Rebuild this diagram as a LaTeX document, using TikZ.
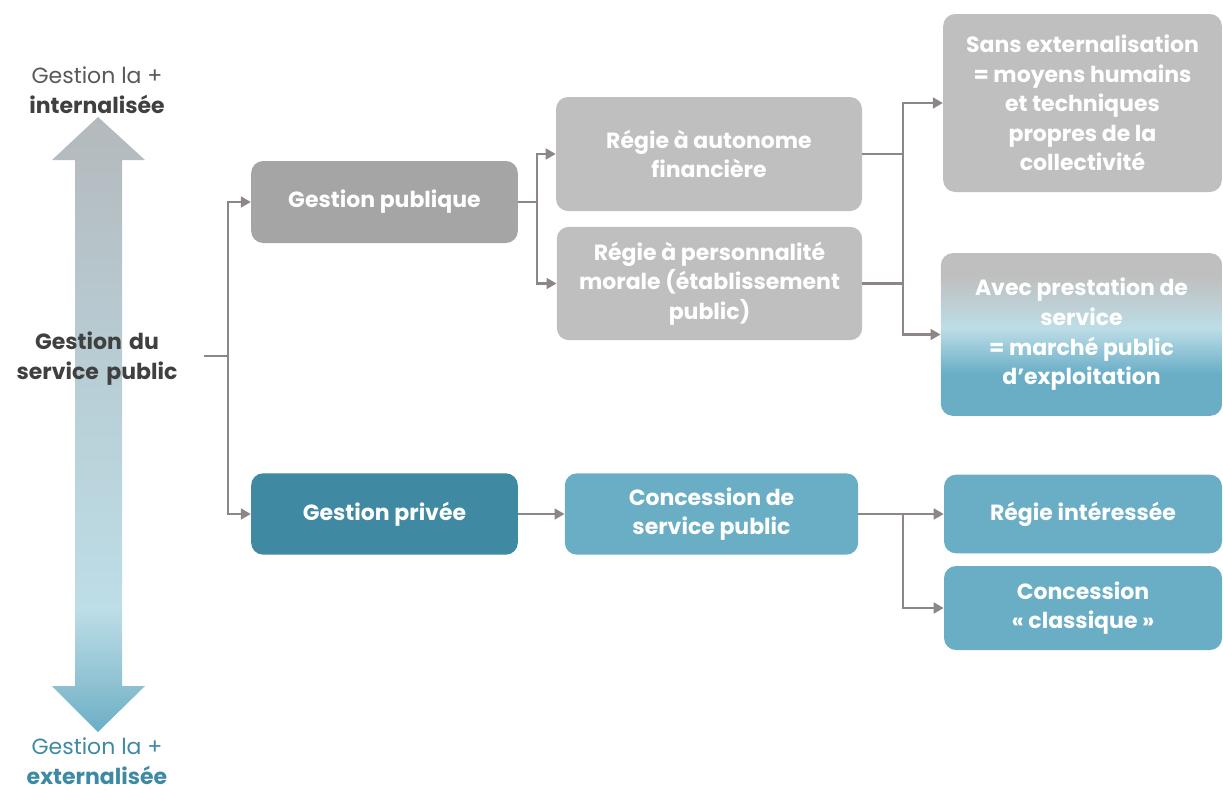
\documentclass[tikz,border=0pt]{standalone}
\usepackage{fontspec}
\setmainfont{Poppins}
\usetikzlibrary{arrows.meta,positioning}
\definecolor{pubgray}{RGB}{165,165,165}
\definecolor{regray}{RGB}{191,191,191}
\definecolor{privteal}{RGB}{63,137,162}
\definecolor{lightteal}{RGB}{106,174,198}
\definecolor{midteal}{RGB}{143,194,210}
\definecolor{paleblue}{RGB}{189,221,231}
\definecolor{bluegray}{RGB}{184,205,212}
\definecolor{arrowgray}{RGB}{180,185,188}
\definecolor{linkgray}{RGB}{140,134,132}
\definecolor{txtdark}{RGB}{64,64,64}
\definecolor{txtgray}{RGB}{89,89,89}
\definecolor{txtteal}{RGB}{62,138,164}
\pgfdeclareverticalshading{avecshade}{100bp}{color(0bp)=(lightteal); color(38bp)=(lightteal); color(52bp)=(paleblue); color(68bp)=(regray); color(100bp)=(regray)}
\pgfdeclareverticalshading{scaleshade}{100bp}{color(0bp)=(lightteal); color(25bp)=(lightteal); color(29bp)=(midteal); color(35bp)=(paleblue); color(55bp)=(bluegray); color(75bp)=(arrowgray); color(100bp)=(arrowgray)}
\tikzset{
  box/.style={rounded corners=9pt, text=white, align=center, inner sep=0pt,
    font=\bfseries\fontsize{16.5}{22.2}\selectfont},
  label/.style={align=center, inner sep=0pt, font=\fontsize{16.5}{22.5}\selectfont},
  link/.style={draw=linkgray, line width=2pt},
  linkarr/.style={link, -{Triangle[length=7.5pt,width=8pt]}},
}
\begin{document}
\begin{tikzpicture}[x=0.75pt,y=-0.75pt]
\useasboundingbox (0,0) rectangle (1223,790);
% echelle a gauche
\shade[shading=scaleshade] (98,117) -- (145,160) -- (122,160) -- (122,686) -- (145,686) -- (98,732)
  -- (52,686) -- (75,686) -- (75,160) -- (52,160) -- cycle;
\node [label] (topl) at (97,90) {\color{txtgray}Gestion la +\\\color{txtdark}\bfseries internalisée};
\node [label, text=txtdark, font=\bfseries\fontsize{16.5}{22.5}\selectfont, text width=160.5pt] (gdsp) at (97,359) {Gestion du\\service public};
\node [label] (botl) at (97,761) {\color{txtteal}Gestion la +\\\color{txtteal}\bfseries externalisée};
% boites
\node [box, fill=pubgray, minimum width=200pt, minimum height=61.5pt] (gpub) at (384.5,202) {Gestion publique};
\node [box, fill=regray, minimum width=229.5pt, minimum height=85.5pt] (regA) at (709,154) {Régie à autonome\\financière};
\node [box, fill=regray, minimum width=229pt, minimum height=85pt] (regB) at (709.5,283.5) {Régie à personnalité\\morale (établissement\\public)};
\node [box, fill=regray, minimum width=209pt, minimum height=133.5pt] (sans) at (1082.5,103) {Sans externalisation\\= moyens humains\\et techniques\\propres de la\\collectivité};
\node [box, shading=avecshade, minimum width=211pt, minimum height=122pt] (avec) at (1081.5,334.5) {Avec prestation de\\service\\= marché public\\d’exploitation};
\node [box, fill=privteal, minimum width=200pt, minimum height=61pt] (gpriv) at (384.5,514) {Gestion privée};
\node [box, fill=lightteal, minimum width=220pt, minimum height=61pt] (conc) at (711.5,514) {Concession de\\service public};
\node [box, fill=lightteal, minimum width=208.5pt, minimum height=59pt] (regI) at (1083,514) {Régie intéressée};
\node [box, fill=lightteal, minimum width=208.5pt, minimum height=63pt] (concC) at (1083,608) {Concession\\« classique »};
% liaisons
\coordinate (jl) at (228,356);
\coordinate (jp) at (537,202);
\coordinate (jr) at (903,219);
\coordinate (jc) at (903,514);
\draw [link] (gdsp.east |- jl) -- (jl);
\draw [linkarr] (jl) |- (gpub);
\draw [linkarr] (jl) |- (gpriv);
\draw [link] (gpub) -- (jp);
\draw [linkarr] (jp) |- (regA);
\draw [linkarr] (jp) |- (regB);
\draw [link] (regA) -- (regA -| jr);
\draw [link] (regB) -- (regB -| jr);
\draw [linkarr] (jr) |- (sans);
\draw [linkarr] (jr) |- (avec);
\draw [linkarr] (gpriv) -- (conc);
\draw [linkarr] (conc) -- (regI);
\draw [linkarr] (jc) |- (concC);
\end{tikzpicture}
\end{document}
